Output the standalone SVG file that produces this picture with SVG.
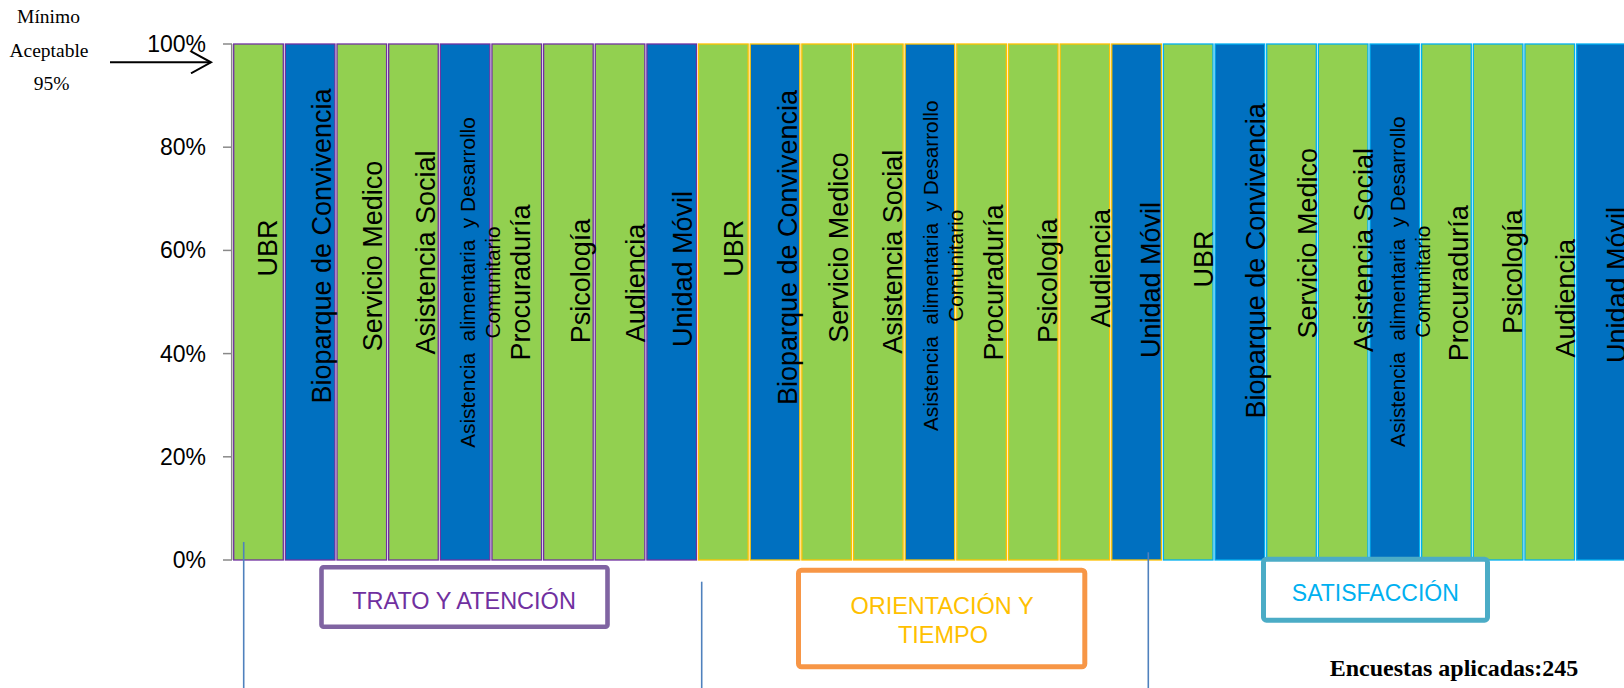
<svg xmlns="http://www.w3.org/2000/svg" width="1624" height="688" viewBox="0 0 1624 688">
<style>
.g1{stroke:#7030A0;stroke-width:1.3}
.g2{stroke:#FFC000;stroke-width:1.3}
.g3{stroke:#00B0F0;stroke-width:1.3}
.gr{fill:#92D050}
.bl{fill:#0070C0}
.lab{font-family:"Liberation Sans",Arial,sans-serif;font-size:27px;fill:#000;text-anchor:middle}
.sm{font-family:"Liberation Sans",Arial,sans-serif;font-size:20.8px;fill:#000;text-anchor:middle}
.ax{font-family:"Liberation Sans",Arial,sans-serif;font-size:23px;fill:#000;text-anchor:end}
.ser{font-family:"Liberation Serif","Times New Roman",serif;font-size:19.5px;fill:#000;text-anchor:middle}
.cat{font-family:"Liberation Sans",Arial,sans-serif;font-size:23.5px;text-anchor:middle}
.vl{stroke:#4F81BD;stroke-width:1.6;fill:none}
</style>
<defs>
<marker id="arr" markerWidth="24" markerHeight="24" refX="21" refY="12" orient="auto" markerUnits="userSpaceOnUse">
<path d="M1,1 L21,12 L1,23" fill="none" stroke="#000" stroke-width="2"/>
</marker>
</defs>
<rect width="1624" height="688" fill="#fff"/>

<g id="axis">
<line x1="231.7" y1="44" x2="231.7" y2="560" stroke="#898989" stroke-width="1.5"/>
<g stroke="#898989" stroke-width="1.5">
<line x1="223" y1="44" x2="232" y2="44"/>
<line x1="223" y1="147.2" x2="232" y2="147.2"/>
<line x1="223" y1="250.4" x2="232" y2="250.4"/>
<line x1="223" y1="353.6" x2="232" y2="353.6"/>
<line x1="223" y1="456.8" x2="232" y2="456.8"/>
<line x1="223" y1="560" x2="232" y2="560"/>
</g>
<text class="ax" x="206" y="52">100%</text>
<text class="ax" x="206" y="155.2">80%</text>
<text class="ax" x="206" y="258.4">60%</text>
<text class="ax" x="206" y="361.6">40%</text>
<text class="ax" x="206" y="464.8">20%</text>
<text class="ax" x="206" y="568">0%</text>
</g>

<g id="minimo">
<text class="ser" x="48.5" y="23">Mínimo</text>
<text class="ser" x="49" y="56.5">Aceptable</text>
<text class="ser" x="51.5" y="90">95%</text>
</g>

<g id="bars-trato">
<rect class="gr g1" x="233.7" y="44" width="49.6" height="516"/>
<rect class="bl g1" x="285.35" y="44" width="49.6" height="516"/>
<rect class="gr g1" x="337" y="44" width="49.6" height="516"/>
<rect class="gr g1" x="388.65" y="44" width="49.6" height="516"/>
<rect class="bl g1" x="440.3" y="44" width="49.6" height="516"/>
<rect class="gr g1" x="491.95" y="44" width="49.6" height="516"/>
<rect class="gr g1" x="543.6" y="44" width="49.6" height="516"/>
<rect class="gr g1" x="595.25" y="44" width="49.6" height="516"/>
<rect class="bl g1" x="646.9" y="44" width="49.6" height="516"/>
</g>
<g id="bars-orientacion">
<rect class="gr g2" x="698.55" y="44" width="49.6" height="516"/>
<rect class="bl g2" x="750.2" y="44" width="49.6" height="516"/>
<rect class="gr g2" x="801.85" y="44" width="49.6" height="516"/>
<rect class="gr g2" x="853.5" y="44" width="49.6" height="516"/>
<rect class="bl g2" x="905.15" y="44" width="49.6" height="516"/>
<rect class="gr g2" x="956.8" y="44" width="49.6" height="516"/>
<rect class="gr g2" x="1008.45" y="44" width="49.6" height="516"/>
<rect class="gr g2" x="1060.1" y="44" width="49.6" height="516"/>
<rect class="bl g2" x="1111.75" y="44" width="49.6" height="516"/>
</g>
<g id="bars-satisfaccion">
<rect class="gr g3" x="1163.4" y="44" width="49.6" height="516"/>
<rect class="bl g3" x="1215.05" y="44" width="49.6" height="516"/>
<rect class="gr g3" x="1266.7" y="44" width="49.6" height="516"/>
<rect class="gr g3" x="1318.35" y="44" width="49.6" height="516"/>
<rect class="bl g3" x="1370" y="44" width="49.6" height="516"/>
<rect class="gr g3" x="1421.65" y="44" width="49.6" height="516"/>
<rect class="gr g3" x="1473.3" y="44" width="49.6" height="516"/>
<rect class="gr g3" x="1524.95" y="44" width="49.6" height="516"/>
<rect class="bl g3" x="1576.6" y="44" width="49.6" height="516"/>
</g>

<g id="labels-trato">
<text class="lab" transform="translate(276.7,248) rotate(-90)">UBR</text>
<text class="lab" transform="translate(331,246) rotate(-90)">Bioparque de Convivencia</text>
<text class="lab" transform="translate(381.7,256) rotate(-90)">Servicio Medico</text>
<text class="lab" transform="translate(435,252.5) rotate(-90)">Asistencia Social</text>
<text class="sm" xml:space="preserve" transform="translate(475,282.5) rotate(-90)">Asistencia  alimentaria  y Desarrollo</text>
<text class="sm" transform="translate(500,282.5) rotate(-90)">Comunitario</text>
<text class="lab" transform="translate(530,282.5) rotate(-90)">Procuraduría</text>
<text class="lab" transform="translate(590,281) rotate(-90)">Psicología</text>
<text class="lab" transform="translate(645,283) rotate(-90)">Audiencia</text>
<text class="lab" transform="translate(691.7,269) rotate(-90)">Unidad Móvil</text>
</g>
<g id="labels-orientacion">
<text class="lab" transform="translate(743.3,248.3) rotate(-90)">UBR</text>
<text class="lab" transform="translate(797.3,247.5) rotate(-90)">Bioparque de Convivencia</text>
<text class="lab" transform="translate(848.3,247.5) rotate(-90)">Servicio Medico</text>
<text class="lab" transform="translate(901.7,251.7) rotate(-90)">Asistencia Social</text>
<text class="sm" xml:space="preserve" transform="translate(938.3,265.8) rotate(-90)">Asistencia  alimentaria  y Desarrollo</text>
<text class="sm" transform="translate(963.3,265.8) rotate(-90)">Comunitario</text>
<text class="lab" transform="translate(1003.3,282.5) rotate(-90)">Procuraduría</text>
<text class="lab" transform="translate(1056.7,280.8) rotate(-90)">Psicología</text>
<text class="lab" transform="translate(1110,268.3) rotate(-90)">Audiencia</text>
<text class="lab" transform="translate(1160,280) rotate(-90)">Unidad Móvil</text>
</g>
<g id="labels-satisfaccion">
<text class="lab" transform="translate(1213.3,259) rotate(-90)">UBR</text>
<text class="lab" transform="translate(1265,260.8) rotate(-90)">Bioparque de Convivencia</text>
<text class="lab" transform="translate(1316.7,243.3) rotate(-90)">Servicio Medico</text>
<text class="lab" transform="translate(1373.3,250) rotate(-90)">Asistencia Social</text>
<text class="sm" xml:space="preserve" transform="translate(1405,281.7) rotate(-90)">Asistencia  alimentaria  y Desarrollo</text>
<text class="sm" transform="translate(1430,281.7) rotate(-90)">Comunitario</text>
<text class="lab" transform="translate(1468.3,283.3) rotate(-90)">Procuraduría</text>
<text class="lab" transform="translate(1521.7,271.7) rotate(-90)">Psicología</text>
<text class="lab" transform="translate(1575,298.3) rotate(-90)">Audiencia</text>
<text class="lab" transform="translate(1626,285) rotate(-90)">Unidad Móvil</text>
</g>

<g id="connectors">
<line x1="110" y1="62.3" x2="211" y2="62.3" stroke="#000" stroke-width="2" marker-end="url(#arr)"/>
<line class="vl" x1="243.7" y1="542" x2="243.7" y2="688"/>
<line class="vl" x1="701.7" y1="581.7" x2="701.7" y2="688"/>
<line class="vl" x1="1148.3" y1="552.3" x2="1148.3" y2="688"/>
</g>

<g id="cat-trato">
<rect x="321.5" y="567.3" width="286" height="59.4" rx="2" fill="#fff" stroke="#8064A2" stroke-width="4.6"/>
<text class="cat" x="464" y="609" fill="#7030A0">TRATO Y ATENCIÓN</text>
</g>
<g id="cat-orientacion">
<rect x="798.5" y="570.2" width="286.3" height="96.6" rx="3" fill="#fff" stroke="#F79646" stroke-width="5"/>
<text class="cat" x="942" y="614" fill="#FFC000">ORIENTACIÓN Y</text>
<text class="cat" x="943" y="643.3" fill="#FFC000">TIEMPO</text>
</g>
<g id="cat-satisfaccion">
<rect x="1263.5" y="559.2" width="224" height="61" rx="3" fill="#fff" stroke="#4BACC6" stroke-width="5"/>
<text class="cat" x="1375.3" y="600.5" fill="#00B0F0" style="font-size:23px">SATISFACCIÓN</text>
</g>

<g id="encuestas">
<text x="1454" y="676" font-family="'Liberation Serif','Times New Roman',serif" font-size="24" font-weight="bold" text-anchor="middle" fill="#000">Encuestas aplicadas:245</text>
</g>
</svg>
